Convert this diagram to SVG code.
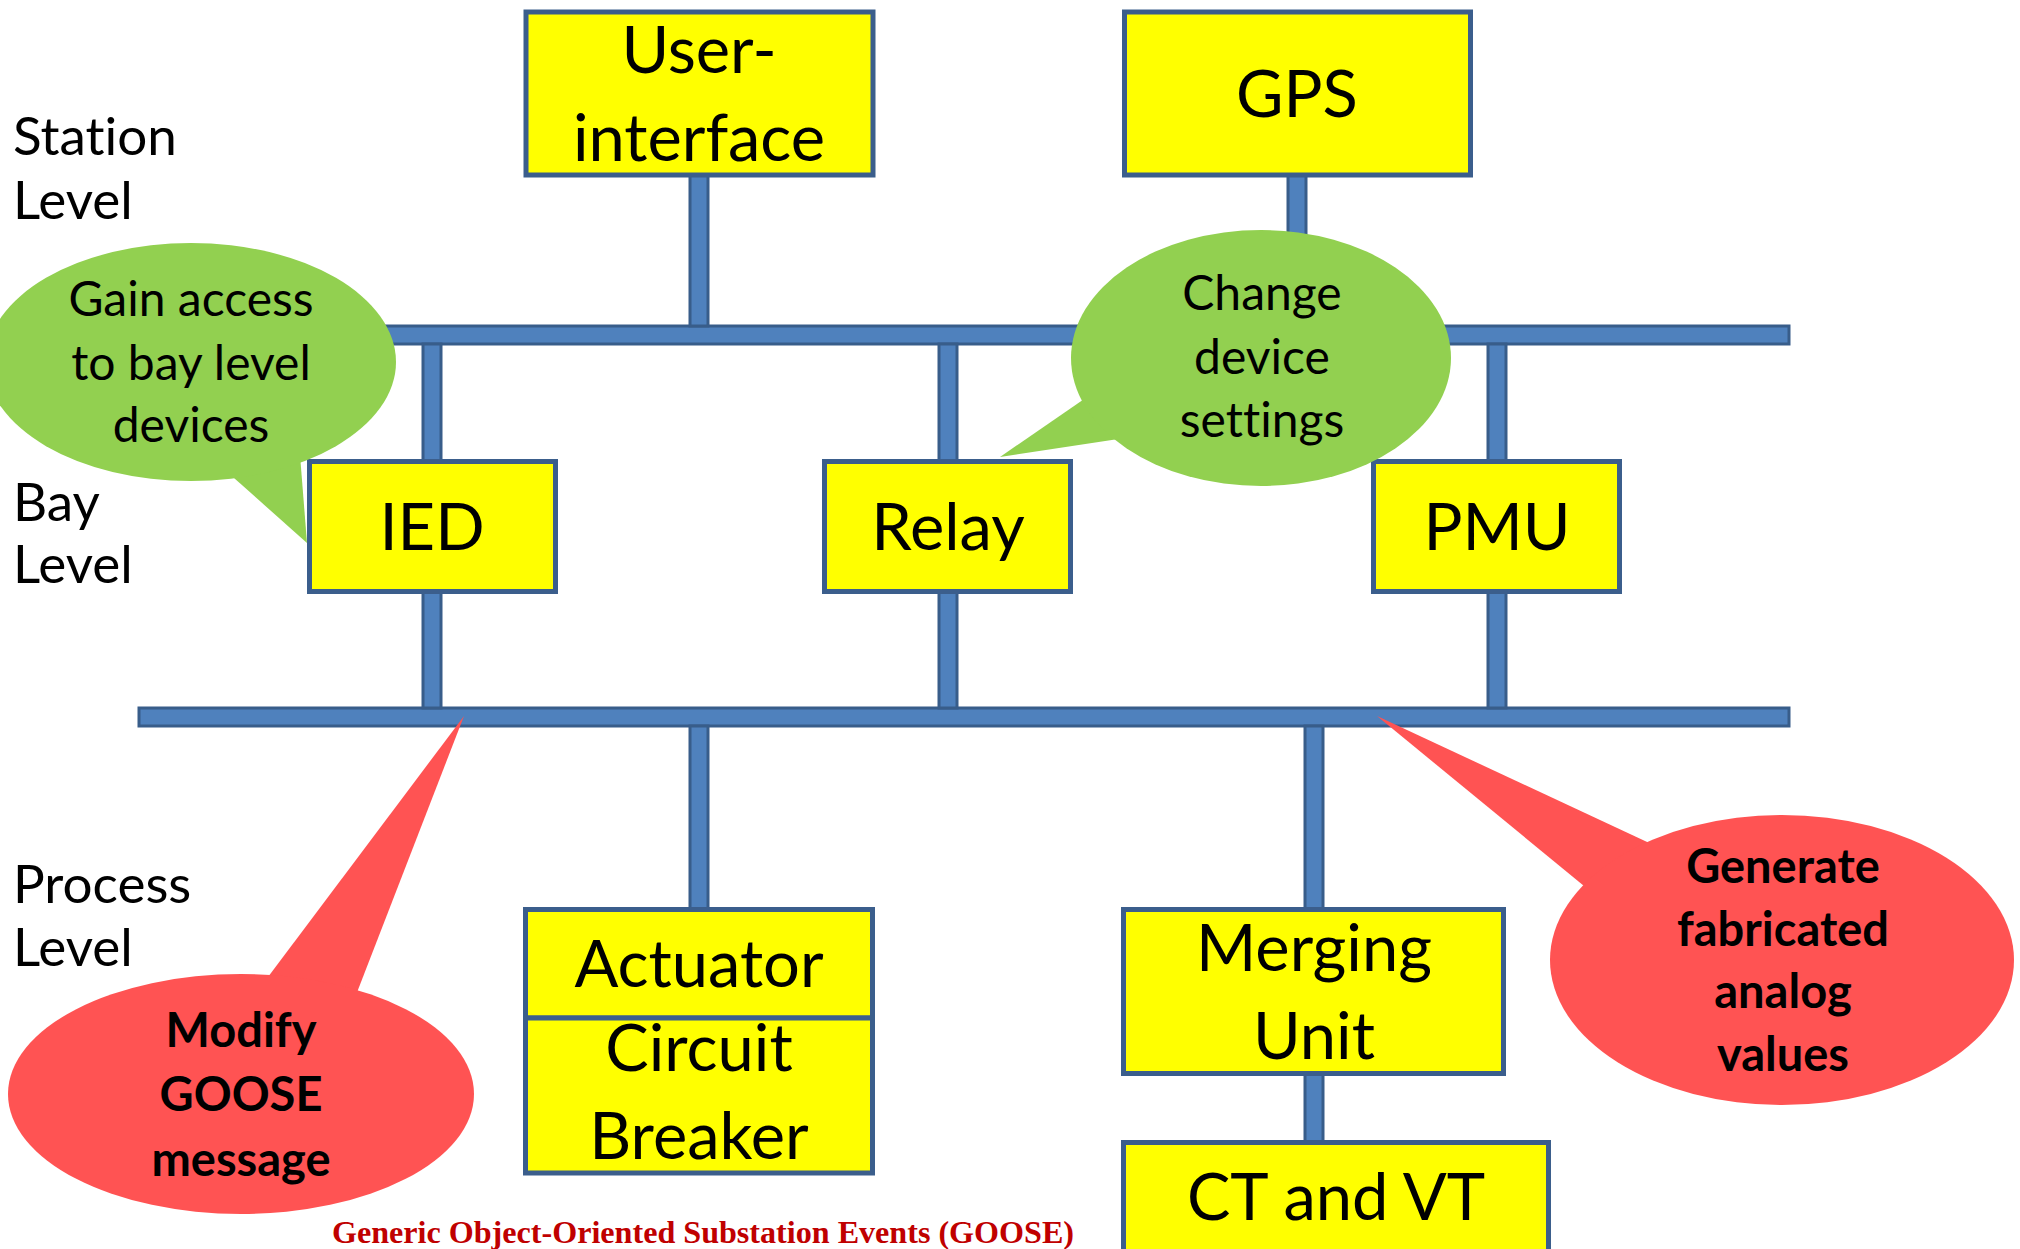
<svg xmlns="http://www.w3.org/2000/svg" width="2020" height="1249" viewBox="0 0 2020 1249">
  <style>
    text { font-variant-ligatures: none; }
    .bus { fill: #4F81BD; stroke: #385D8A; stroke-width: 3; }
    .box { fill: #FFFF00; stroke: #3B5E8C; stroke-width: 5; }
    .green { fill: #92D050; }
    .red { fill: #FF5353; }
    .lbl { font-family: Lato, "Liberation Sans", sans-serif; font-size: 65px; fill: #000; text-anchor: middle; }
    .lvl { font-family: Lato, "Liberation Sans", sans-serif; font-size: 53px; fill: #000; }
    .note { font-family: Lato, "Liberation Sans", sans-serif; font-size: 48px; fill: #000; text-anchor: middle; }
    .alert { font-family: Lato, "Liberation Sans", sans-serif; font-size: 47px; font-weight: bold; fill: #000; text-anchor: middle; }
    .foot { font-family: "Liberation Serif", "Times New Roman", serif; font-size: 31px; font-weight: bold; fill: #C00000; }
  </style>
  <rect width="2020" height="1249" fill="#FFFFFF"/>

  <!-- level labels -->
  <g id="levels">
    <text class="lvl" x="13" y="155">Station</text>
    <text class="lvl" x="13" y="219">Level</text>
    <text class="lvl" x="13" y="521">Bay</text>
    <text class="lvl" x="13" y="583">Level</text>
    <text class="lvl" x="13" y="903">Process</text>
    <text class="lvl" x="13" y="966">Level</text>
  </g>

  <!-- network buses and drop lines -->
  <g id="connectors">
    <rect class="bus" x="139" y="326" width="1650" height="18"/>
    <rect class="bus" x="139" y="708" width="1650" height="18"/>
    <rect class="bus" x="690" y="175" width="18" height="151"/>
    <rect class="bus" x="1288" y="175" width="18" height="151"/>
    <rect class="bus" x="423" y="344" width="18" height="117"/>
    <rect class="bus" x="939" y="344" width="18" height="117"/>
    <rect class="bus" x="1488" y="344" width="18" height="117"/>
    <rect class="bus" x="423" y="592" width="18" height="116"/>
    <rect class="bus" x="939" y="592" width="18" height="116"/>
    <rect class="bus" x="1488" y="592" width="18" height="116"/>
    <rect class="bus" x="690" y="726" width="18" height="183"/>
    <rect class="bus" x="1305" y="726" width="18" height="183"/>
    <rect class="bus" x="1305" y="1074" width="18" height="68"/>
  </g>

  <!-- station level -->
  <g id="user-interface">
    <rect class="box" x="526" y="12" width="347" height="163"/>
    <text class="lbl" x="699" y="73">User-</text>
    <text class="lbl" x="699" y="161">interface</text>
  </g>
  <g id="gps">
    <rect class="box" x="1124.5" y="12" width="346" height="163"/>
    <text class="lbl" x="1297" y="117">GPS</text>
  </g>

  <!-- bay level -->
  <g id="ied">
    <rect class="box" x="309.5" y="461.5" width="246" height="130"/>
    <text class="lbl" x="432" y="550">IED</text>
  </g>
  <g id="relay">
    <rect class="box" x="824.5" y="461.5" width="246" height="130"/>
    <text class="lbl" x="948" y="550">Relay</text>
  </g>
  <g id="pmu">
    <rect class="box" x="1373.5" y="461.5" width="246" height="130"/>
    <text class="lbl" x="1497" y="550">PMU</text>
  </g>

  <!-- process level -->
  <g id="actuator">
    <rect class="box" x="525.5" y="909.5" width="347" height="108.5"/>
    <text class="lbl" x="699" y="987">Actuator</text>
  </g>
  <g id="circuit-breaker">
    <rect class="box" x="525.5" y="1018" width="347" height="155"/>
    <text class="lbl" x="699" y="1071">Circuit</text>
    <text class="lbl" x="699" y="1159">Breaker</text>
  </g>
  <g id="merging-unit">
    <rect class="box" x="1123.5" y="909.5" width="380" height="164"/>
    <text class="lbl" x="1314" y="971">Merging</text>
    <text class="lbl" x="1314" y="1059">Unit</text>
  </g>
  <g id="ct-vt">
    <rect class="box" x="1123.5" y="1142.5" width="425" height="125"/>
    <text class="lbl" x="1336" y="1220">CT and VT</text>
  </g>

  <!-- attack callouts -->
  <g id="callout-bay-access">
    <polygon class="green" points="225,470 307,543 300,455"/>
    <ellipse class="green" cx="191" cy="362" rx="205" ry="119"/>
    <text class="note" x="191" y="316">Gain access</text>
    <text class="note" x="191" y="380">to bay level</text>
    <text class="note" x="191" y="442">devices</text>
  </g>
  <g id="callout-settings">
    <polygon class="green" points="1090,395 1000,457 1125,438"/>
    <ellipse class="green" cx="1261" cy="358" rx="190" ry="128"/>
    <text class="note" x="1262" y="310">Change</text>
    <text class="note" x="1262" y="374">device</text>
    <text class="note" x="1262" y="437">settings</text>
  </g>
  <g id="callout-goose">
    <polygon class="red" points="262,985 464,716 356,995"/>
    <ellipse class="red" cx="241" cy="1094" rx="233" ry="120"/>
    <text class="alert" x="241" y="1047">Modify</text>
    <text class="alert" x="241" y="1111">GOOSE</text>
    <text class="alert" x="241" y="1176">message</text>
  </g>
  <g id="callout-analog">
    <polygon class="red" points="1595,895 1377,716 1660,848"/>
    <ellipse class="red" cx="1782" cy="960" rx="232" ry="145"/>
    <text class="alert" x="1783" y="883">Generate</text>
    <text class="alert" x="1783" y="946">fabricated</text>
    <text class="alert" x="1783" y="1008">analog</text>
    <text class="alert" x="1783" y="1071">values</text>
  </g>

  <text class="foot" x="332" y="1243" textLength="742" lengthAdjust="spacingAndGlyphs">Generic Object-Oriented Substation Events (GOOSE)</text>
</svg>
